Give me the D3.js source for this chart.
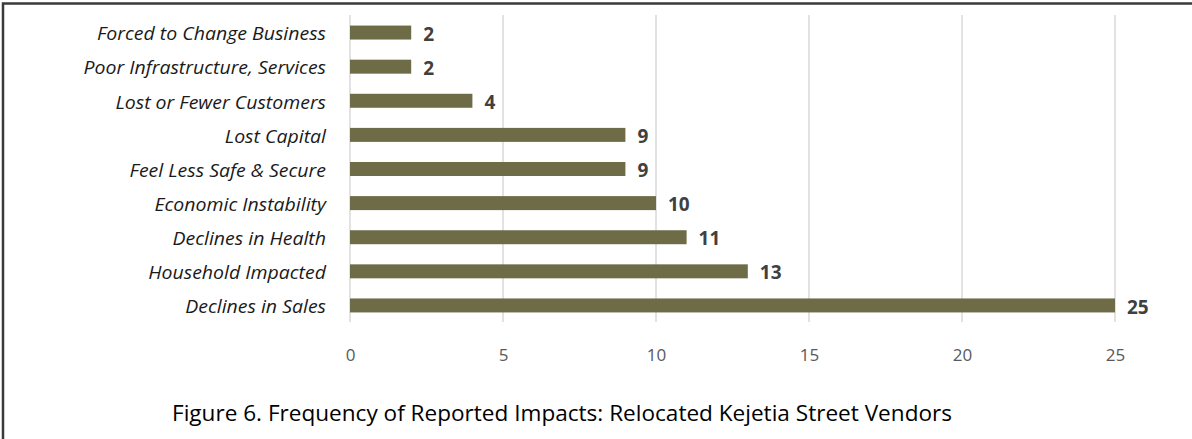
<!DOCTYPE html>
<html><head><meta charset="utf-8">
<script src="https://cdn.jsdelivr.net/npm/d3@7"></script>
<style>body{margin:0;background:#fff}svg{display:block}</style>
</head><body><svg id="c" width="1192" height="439"></svg>
<script>
const categories = ["Forced to Change Business","Poor Infrastructure, Services","Lost or Fewer Customers","Lost Capital","Feel Less Safe & Secure","Economic Instability","Declines in Health","Household Impacted","Declines in Sales"];
const values = [2,2,4,9,9,10,11,13,25];
const tickValues = [0,5,10,15,20,25];
const caption = "Figure 6. Frequency of Reported Impacts: Relocated Kejetia Street Vendors";

const svg = d3.select("#c");
svg.append("path").attr("d","M3,1193 L3,3.5 L1192,3.5").attr("fill","none").attr("stroke","#3a3a3a").attr("stroke-width",2.5);

const x = d3.scaleLinear().domain([0,25]).range([350,1115]);
const y = d3.scaleBand().domain(categories).range([15.5,322.5]).paddingInner(0.59).paddingOuter(0.295);

svg.append("g").selectAll("line").data(tickValues).join("line")
  .attr("x1",d=>x(d)).attr("x2",d=>x(d)).attr("y1",15).attr("y2",322)
  .attr("stroke","#d9d9d9").attr("stroke-width",1.5);

svg.append("g").selectAll("rect").data(values).join("rect")
  .attr("x",x(0)).attr("y",(d,i)=>y(categories[i]))
  .attr("width",d=>x(d)-x(0)).attr("height",y.bandwidth())
  .attr("fill","#6d6c47");

svg.append("g").selectAll("text").data(values).join("text")
  .attr("x",d=>x(d)+12).attr("y",(d,i)=>y(categories[i])+y.bandwidth()/2+3)
  .attr("dominant-baseline","middle")
  .attr("font-family","Open Sans, sans-serif").attr("font-weight","bold").attr("font-size",19)
  .attr("fill","#404040").text(d=>d);

const labs = svg.append("g").selectAll("text").data(categories).join("text")
  .attr("x",326).attr("y",d=>y(d)+y.bandwidth()/2+3)
  .attr("text-anchor","end").attr("dominant-baseline","middle")
  .attr("font-family","Open Sans, sans-serif").attr("font-style","italic").attr("font-size",18)
  .attr("fill","#1a1a1a").text(d=>d);
const k = 229 / labs.nodes()[0].getComputedTextLength();
labs.each(function(){ const w=this.getComputedTextLength(); d3.select(this).attr("textLength",w*k).attr("lengthAdjust","spacingAndGlyphs"); });

const ax = svg.append("g").attr("transform","translate(0,349)")
  .call(d3.axisBottom(x).tickValues(tickValues).tickSize(0).tickPadding(0));
ax.select(".domain").remove();
ax.selectAll("text").attr("font-family","Open Sans, sans-serif").attr("font-size",17).attr("fill","#595959");

svg.append("text").attr("x",172).attr("y",421)
  .attr("font-family","Open Sans, sans-serif").attr("font-size",21).attr("fill","#000")
  .attr("textLength",780).attr("lengthAdjust","spacingAndGlyphs").text(caption);
</script></body></html>
